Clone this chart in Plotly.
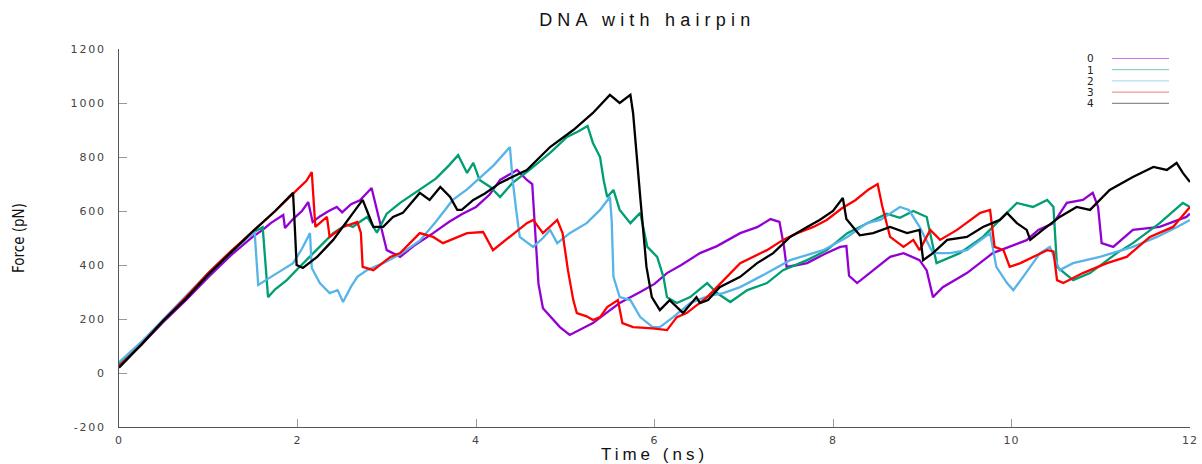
import plotly.graph_objects as go

# ---- data: force traces (pN) against simulation time (ns) ----
names = ["0", "1", "2", "3", "4"]
colors = ["#9400D3", "#009E73", "#56B4E9", "#FF0000", "#000000"]

t0 = [0, 0.25, 0.5, 0.75, 1.0, 1.25, 1.5, 1.61, 1.7, 1.84, 1.86, 1.95, 2.05, 2.12, 2.17, 2.25,
      2.35, 2.44, 2.5, 2.6, 2.7, 2.83, 2.9, 3.0, 3.15, 3.3, 3.52, 3.7, 3.85, 4.0, 4.15, 4.27,
      4.46, 4.57, 4.63, 4.66, 4.7, 4.75, 4.85, 4.94, 5.05, 5.2, 5.31, 5.45, 5.61, 5.84, 6.0,
      6.14, 6.3, 6.51, 6.7, 6.96, 7.15, 7.3, 7.4, 7.45, 7.48, 7.6, 7.71, 7.9, 8.08, 8.15, 8.18,
      8.27, 8.45, 8.64, 8.79, 8.97, 9.05, 9.12, 9.23, 9.5, 9.79, 9.98, 10.17, 10.3, 10.47,
      10.62, 10.8, 10.91, 10.97, 11.01, 11.14, 11.36, 11.66, 11.96, 12.0]
f0 = [30, 105, 190, 270, 355, 435, 505, 530, 555, 585, 537, 570, 600, 633, 559, 580,
      600, 615, 595, 625, 640, 685, 590, 455, 430, 470, 518, 560, 590, 615, 660, 715,
      752, 715, 700, 520, 330, 240, 205, 170, 141, 165, 185, 220, 259, 300, 330,
      370, 400, 444, 470, 518, 540, 570, 560, 470, 393, 400, 407, 440, 467, 470, 360,
      333, 381, 430, 444, 418, 380, 281, 318, 370, 444, 467, 492, 530, 555,
      630, 641, 667, 615, 481, 467, 530, 541, 578, 590]

t1 = [0, 0.25, 0.5, 0.75, 1.0, 1.25, 1.5, 1.61, 1.63, 1.67, 1.75, 1.88, 2.0, 2.1, 2.25, 2.4,
      2.55, 2.62, 2.7, 2.78, 2.89, 3.0, 3.15, 3.37, 3.55, 3.7, 3.8, 3.9, 3.97, 4.04, 4.16,
      4.27, 4.41, 4.6, 4.83, 5.02, 5.15, 5.25, 5.31, 5.39, 5.43, 5.47, 5.54, 5.61, 5.73, 5.84,
      5.92, 6.03, 6.1, 6.14, 6.25, 6.4, 6.59, 6.7, 6.85, 7.04, 7.26, 7.44, 7.71, 7.93, 8.16,
      8.3, 8.45, 8.6, 8.75, 8.9, 9.05, 9.1, 9.16, 9.42, 9.68, 9.87, 10.06, 10.24, 10.4, 10.47,
      10.51, 10.69, 10.88, 11.18, 11.36, 11.66, 11.92, 12.0]
f1 = [35, 110, 195, 280, 365, 445, 520, 540, 460, 281, 310, 344, 385, 418, 470, 518,
      550, 541, 560, 578, 520, 590, 630, 678, 720, 770, 807, 741, 778, 715, 689,
      652, 704, 752, 815, 874, 895, 915, 852, 800, 715, 652, 678, 604, 555, 593,
      467, 430, 356, 281, 259, 281, 333, 296, 263, 307, 333, 381, 418, 455, 518,
      541, 567, 590, 575, 600, 578, 500, 407, 444, 504, 567, 630, 615, 641, 615,
      393, 344, 370, 444, 481, 555, 630, 615]

t2 = [0, 0.25, 0.5, 0.75, 1.0, 1.25, 1.45, 1.52, 1.54, 1.56, 1.65, 1.77, 1.95, 2.05, 2.14,
      2.16, 2.25, 2.36, 2.45, 2.51, 2.6, 2.67, 2.78, 2.96, 3.15, 3.37, 3.55, 3.74, 3.9, 4.04,
      4.2, 4.38, 4.41, 4.45, 4.49, 4.64, 4.75, 4.83, 4.91, 5.05, 5.24, 5.39, 5.5, 5.52, 5.54,
      5.61, 5.73, 5.84, 5.98, 6.06, 6.21, 6.4, 6.6, 6.77, 6.96, 7.26, 7.52, 7.89, 8.16, 8.38,
      8.53, 8.75, 8.85, 8.97, 9.12, 9.31, 9.5, 9.76, 9.79, 9.83, 9.95, 10.02, 10.13, 10.32,
      10.43, 10.54, 10.69, 10.99, 11.36, 11.63, 11.85, 12.0]
f2 = [40, 115, 200, 285, 370, 450, 505, 520, 420, 326, 345, 370, 407, 460, 518,
      389, 333, 296, 307, 263, 320, 356, 381, 407, 440, 490, 560, 641, 680, 722,
      770, 837, 715, 604, 504, 467, 500, 530, 481, 518, 555, 604, 652, 567, 356,
      281, 270, 207, 170, 170, 207, 259, 285, 296, 318, 370, 418, 455, 504, 555,
      567, 615, 604, 541, 444, 444, 455, 518, 470, 393, 333, 307, 356, 444,
      467, 381, 407, 430, 467, 504, 540, 567]

t3 = [0, 0.25, 0.5, 0.75, 1.0, 1.25, 1.5, 1.75, 2.0, 2.1, 2.16, 2.2, 2.33, 2.36, 2.51, 2.67,
      2.71, 2.73, 2.85, 3.04, 3.15, 3.37, 3.52, 3.63, 3.9, 4.08, 4.19, 4.38, 4.57, 4.64, 4.75,
      4.91, 4.97, 5.03, 5.09, 5.13, 5.24, 5.31, 5.39, 5.47, 5.59, 5.64, 5.76, 5.98, 6.14, 6.25,
      6.36, 6.59, 6.81, 6.96, 7.26, 7.44, 7.6, 7.78, 7.93, 8.1, 8.25, 8.4, 8.5, 8.55, 8.64,
      8.79, 8.9, 8.97, 9.09, 9.2, 9.39, 9.54, 9.65, 9.76, 9.81, 9.91, 9.98, 10.1, 10.24, 10.4,
      10.47, 10.51, 10.58, 10.8, 11.07, 11.29, 11.55, 11.81, 12.0]
f3 = [25, 105, 195, 280, 370, 450, 525, 600, 680, 712, 744, 541, 578, 504, 541, 559,
      520, 393, 381, 430, 444, 518, 504, 481, 518, 522, 455, 504, 555, 567, 518,
      567, 518, 381, 270, 222, 210, 196, 207, 244, 270, 185, 170, 165, 159, 207,
      222, 281, 356, 407, 455, 493, 518, 541, 567, 610, 640, 680, 700, 620, 504,
      467, 493, 455, 530, 493, 530, 567, 593, 604, 467, 455, 393, 407, 430, 455,
      450, 344, 333, 370, 407, 430, 504, 541, 615]

t4 = [0, 0.25, 0.5, 0.75, 1.0, 1.25, 1.5, 1.75, 1.95, 1.97, 1.99, 2.06, 2.22, 2.4, 2.62, 2.73,
      2.78, 2.85, 2.96, 3.07, 3.18, 3.37, 3.48, 3.6, 3.71, 3.79, 3.84, 3.97, 4.1, 4.27, 4.57,
      4.83, 5.09, 5.31, 5.5, 5.61, 5.73, 5.76, 5.84, 5.91, 5.97, 6.06, 6.17, 6.32, 6.47, 6.51,
      6.6, 6.73, 6.96, 7.15, 7.33, 7.52, 7.71, 7.85, 8.0, 8.11, 8.15, 8.3, 8.45, 8.64, 8.83,
      8.97, 9.01, 9.12, 9.28, 9.5, 9.68, 9.87, 9.95, 10.06, 10.17, 10.21, 10.35, 10.54, 10.73,
      10.88, 11.1, 11.36, 11.59, 11.74, 11.85, 11.92, 12.0]
f4 = [20, 105, 195, 275, 365, 445, 525, 600, 667, 540, 400, 389, 430, 493, 593, 641,
      600, 541, 541, 578, 593, 667, 641, 689, 652, 604, 604, 641, 665, 704, 752,
      837, 900, 963, 1030, 1000, 1030, 963, 652, 393, 281, 233, 270, 222, 281, 259,
      270, 318, 356, 407, 444, 504, 541, 567, 600, 648, 570, 510, 518, 541, 518,
      530, 418, 444, 493, 504, 541, 567, 593, 555, 530, 493, 530, 578, 615,
      604, 678, 726, 763, 752, 778, 741, 707]

times = [t0, t1, t2, t3, t4]
forces = [f0, f1, f2, f3, f4]

x_ticks = [0, 2, 4, 6, 8, 10, 12]
y_ticks = [-200, 0, 200, 400, 600, 800, 1000, 1200]


def spaced(text, px):
    return f'<span style="letter-spacing:{px}px">{text}</span>'


fig = go.Figure()
for name, color, t, f in zip(names, colors, times, forces):
    fig.add_trace(go.Scatter(x=t, y=f, mode="lines", name=name,
                             line=dict(color=color, width=2.3), showlegend=False))

# key in the top-right corner: label on the left, line sample on the right
L, R, T, B = 119, 1190, 49, 427
W, H = R - L, B - T
for i, (name, color) in enumerate(zip(names, colors)):
    py = 58.5 + 11.2 * i
    yp = (B - py) / H
    fig.add_shape(type="line", xref="paper", yref="paper",
                  x0=(1112 - L) / W, x1=(1169 - L) / W, y0=yp, y1=yp,
                  line=dict(color=color, width=1), opacity=0.55)
    fig.add_annotation(xref="paper", yref="paper", x=(1096 - L) / W, y=yp,
                       xanchor="right", yanchor="middle", showarrow=False, borderpad=0,
                       text=spaced(name, 1.5),
                       font=dict(family="DejaVu Sans", size=10.5, color="#222"))

axis_common = dict(showgrid=False, zeroline=False, showline=True, linecolor="#555",
                   linewidth=1, ticks="inside", ticklen=8, tickcolor="#999",
                   automargin=False,
                   tickfont=dict(family="DejaVu Sans", size=11, color="#444"))

fig.update_layout(
    width=1202, height=464,
    margin=dict(l=L, r=1202 - R, t=T, b=464 - B),
    plot_bgcolor="white", paper_bgcolor="white",
    title=dict(text=spaced("DNA with hairpin", 5.2), x=(L + R) / 2 / 1202 - 0.006,
               xanchor="center", y=1 - 20 / 464, yanchor="middle",
               font=dict(family="Liberation Sans", size=18, color="#111")),
    xaxis=dict(range=[0, 12], tickvals=x_ticks,
               ticktext=[spaced(str(v), 1) for v in x_ticks],
               ticklabelstandoff=3,
               title=dict(text=spaced("Time (ns)", 4), standoff=6,
                          font=dict(family="Liberation Sans", size=17, color="#111")),
               **axis_common),
    yaxis=dict(range=[-200, 1200], tickvals=y_ticks,
               ticktext=[spaced(str(v), 1.8) for v in y_ticks],
               ticklabelstandoff=10,
               title=dict(text="Force (pN)", standoff=42,
                          font=dict(family="DejaVu Sans Condensed, Liberation Sans Narrow, Liberation Sans",
                                    size=15, color="#111")),
               **axis_common),
)

fig.write_html("out.html")
